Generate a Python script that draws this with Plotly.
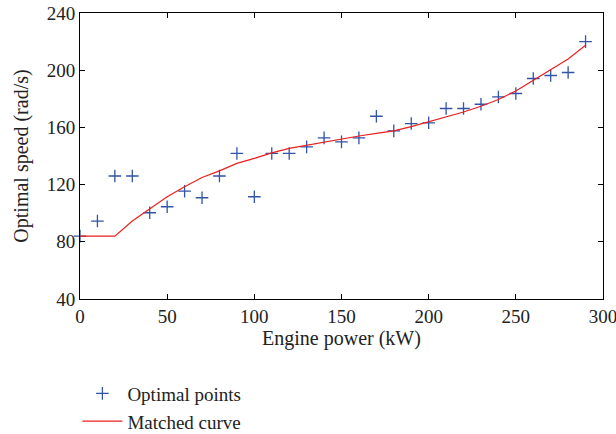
import plotly.graph_objects as go

power_pts = [0, 10, 20, 30, 40, 50, 60, 70, 80, 90, 100, 110, 120, 130, 140,
             150, 160, 170, 180, 190, 200, 210, 220, 230, 240, 250, 260, 270, 280, 290]
speed_pts = [84, 94.5, 126, 126, 100.3, 104.5, 115.4, 110.8, 126, 141.8, 111.5, 141.8, 141.8, 146.4, 152.7,
             149.9, 152.7, 167.8, 157.6, 162.7, 163.2, 173.2, 173.2, 176.2, 181.3, 183.7, 194.2, 196.3, 198.4, 220]

power_curve = [0, 10, 20, 30, 40, 50, 60, 70, 80, 90, 100, 110, 120, 130, 140,
               150, 160, 170, 180, 190, 200, 210, 220, 230, 240, 250, 260, 270, 280, 290]
speed_curve = [84, 84, 84, 94.5, 103, 111.5, 118.5, 125, 129.6, 134.8, 138.3, 142.2, 145.3, 147.6, 149.9,
               152.2, 154, 155.8, 157.6, 160.5, 163.9, 167.2, 170.8, 174.8, 179.5, 185.5, 193, 200, 207.8, 217.4]

x_ticks = [0, 50, 100, 150, 200, 250, 300]
y_ticks = [40, 80, 120, 160, 200, 240]

FAM = "Liberation Serif, Times New Roman, serif"
tick_font = dict(family=FAM, size=19, color="#222")
title_font = dict(family=FAM, size=20, color="#222")

fig = go.Figure()
fig.add_trace(go.Scatter(x=power_pts, y=speed_pts, mode="markers", name="Optimal points",
                         marker=dict(symbol="cross-thin", size=9, line=dict(color="#3153a8", width=1.3),
                                     color="#3153a8"),
                         cliponaxis=False))
fig.add_trace(go.Scatter(x=power_curve, y=speed_curve, mode="lines", name="Matched curve",
                         line=dict(color="#e8201f", width=1.2)))

axis_common = dict(showline=True, linecolor="black", linewidth=1, mirror="ticks", ticks="inside",
                   ticklen=5, tickcolor="black", showgrid=False, zeroline=False,
                   tickfont=tick_font, automargin=False, ticklabeloverflow="allow")
fig.update_xaxes(range=[0, 300], tickvals=x_ticks,
                 title=dict(text="Engine power (kW)", font=title_font, standoff=5),
                 **axis_common)
fig.update_yaxes(range=[40, 240], tickvals=y_ticks,
                 title=dict(text="Optimal speed (rad/s)", font=title_font, standoff=12),
                 **axis_common)

fig.update_layout(
    width=616, height=434,
    margin=dict(l=80, r=13, t=13, b=135),
    plot_bgcolor="white", paper_bgcolor="white",
    font=tick_font,
    showlegend=True,
    legend=dict(x=-0.005, xref="paper", y=0.137, yref="container", xanchor="left", yanchor="top",
                font=dict(family=FAM, size=19, color="#222"), bgcolor="rgba(0,0,0,0)",
                tracegroupgap=0, itemwidth=40),
)

fig.write_html("out.html")
